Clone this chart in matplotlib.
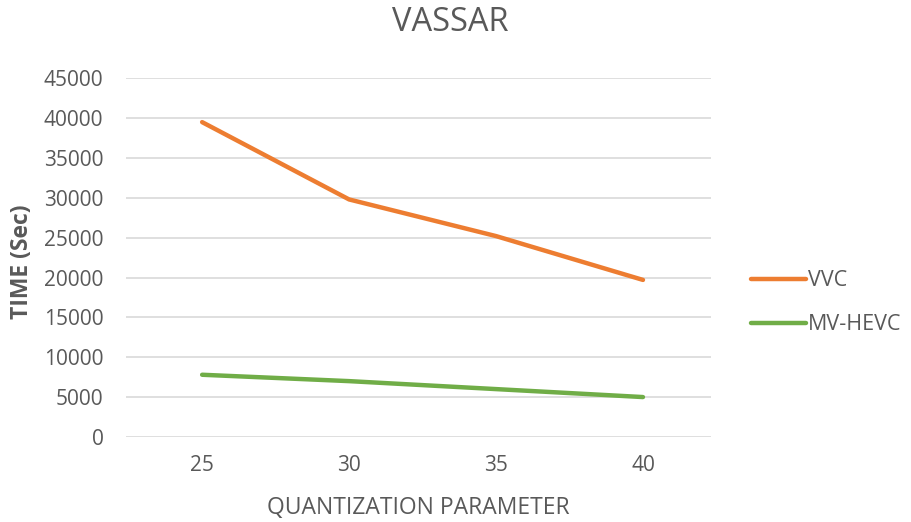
import matplotlib
matplotlib.use("Agg")
import matplotlib.pyplot as plt

plt.rcParams['font.family'] = ['Open Sans', 'DejaVu Sans']

qp = ["25", "30", "35", "40"]
vvc = [39500, 29800, 25200, 19700]
mv_hevc = [7800, 7000, 6000, 5000]
yticks = list(range(0, 45001, 5000))

txt = '#595959'

fig = plt.figure(figsize=(9.11, 5.22), dpi=100)
ax = fig.add_axes([0.138, 0.163, 0.642, 0.687])

x = range(len(qp))
ax.plot(x, vvc, color='#ED7D31', lw=3.2, solid_capstyle='round', label='VVC')
ax.plot(x, mv_hevc, color='#70AD47', lw=3.2, solid_capstyle='round', label='MV-HEVC')

ax.set_xlim(-0.52, 3.46)
ax.set_ylim(0, 45000)
ax.set_yticks(yticks)
ax.set_xticks(list(x))
ax.set_xticklabels(qp)
ax.yaxis.grid(True, color='#d9d9d9', lw=1.2)
ax.set_axisbelow(True)
for s in ax.spines.values():
    s.set_visible(False)
ax.tick_params(length=0, labelsize=15, colors=txt)
ax.tick_params(axis='y', pad=16)
ax.tick_params(axis='x', pad=13)

fig.text(0.494, 0.957, 'VASSAR', ha='center', va='center', fontsize=23.5, color=txt)
fig.text(0.459, 0.027, 'QUANTIZATION PARAMETER', ha='center', va='center', fontsize=16.5, color=txt)
fig.text(0.024, 0.499, 'TIME (Sec)', ha='center', va='center', rotation=90,
         fontsize=16.5, fontweight='bold', color=txt)

fig.legend(loc='center left', bbox_to_anchor=(0.8145, 0.42), frameon=False,
           borderaxespad=0, fontsize=15.5, labelcolor=txt, handlelength=2.55,
           handletextpad=0.1, labelspacing=1.05)

fig.savefig('out.png', dpi=100)
